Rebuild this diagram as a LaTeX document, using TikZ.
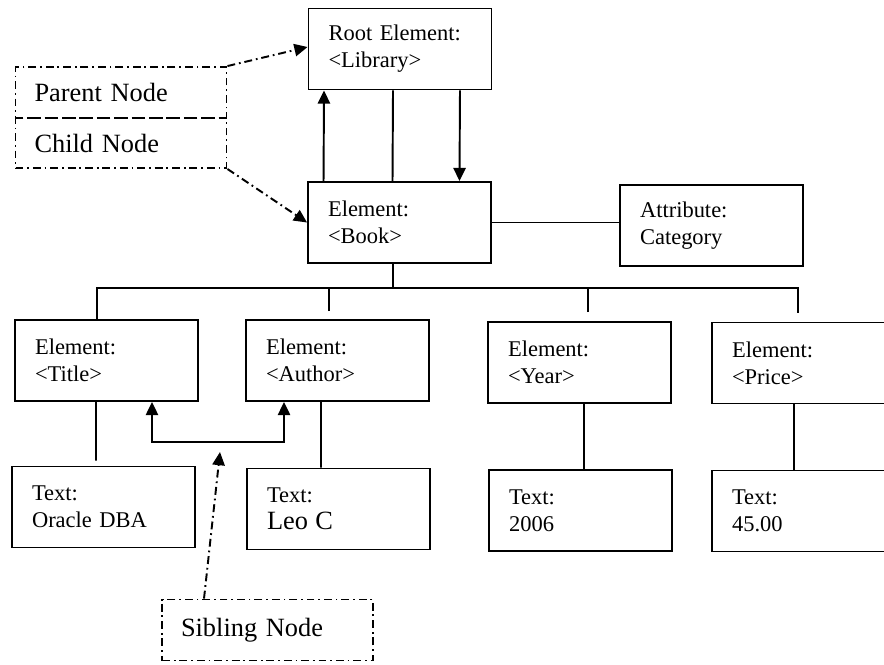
\documentclass[tikz,border=0pt]{standalone}
\usepackage{fontspec}
\setmainfont{Liberation Serif}
\usetikzlibrary{arrows.meta,positioning,calc}

\begin{document}
\begin{tikzpicture}[x=0.02cm, y=-0.02cm, line width=1.1pt,
		>={Triangle[length=7.5pt,width=7pt]},
		elem/.style={draw, rectangle, minimum width=3.66cm, minimum height=1.62cm, inner xsep=0.4cm, text width=2.86cm, align=left, font=\fontsize{12.8}{15.5}\selectfont},
		hint/.style={draw, dash pattern=on 4.5pt off 2.2pt on 1pt off 2.2pt, rectangle, minimum width=4.22cm, inner xsep=0.38cm, text width=3.46cm, align=left, font=\fontsize{15}{17}\selectfont},
		hintline/.style={dash pattern=on 4.5pt off 2.2pt on 1pt off 2.2pt}]
		\useasboundingbox (0,0) rectangle (884,664);

		\node[elem] (root) at (400,49) {Root Element:\\<Library>};
		\node[elem] (book) at (399.5,222.5) {Element:\\<Book>};
		\node[elem] (attr) at (711.5,225.5) {Attribute:\\Category};

		\node[elem] (title) at (106.5,360.5) {Element:\\<Title>};
		\node[elem] (author) at (337.5,360.5) {Element:\\<Author>};
		\node[elem] (year) at (579.5,362.5) {Element:\\<Year>};
		\node[elem] (price) at (803.5,363) {Element:\\<Price>};

		\node[elem] (oracle) at (103.5,507) {Text:\\Oracle DBA};
		\node[elem] (leo) at (338.5,509) {Text:\\{\fontsize{15}{17}\selectfont Leo C}};
		\node[elem] (yeartxt) at (580.5,510.5) {Text:\\2006};
		\node[elem] (pricetxt) at (803.5,511) {Text:\\45.00};

		\node[hint, minimum height=1.02cm] (parent) at (121,92.5) {Parent Node};
		\node[hint, minimum height=1.0cm] (child) at (121,143) {Child Node};
		\node[hint, minimum height=1.22cm] (sibling) at (267.5,630) {Sibling Node};

		% root and book
		\draw[->] ([xshift=-1.52cm]book.north) -- ([xshift=-1.52cm]root.south);
		\draw ([xshift=-0.14cm]root.south) -- ([xshift=-0.14cm]book.north);
		\draw[->] ([xshift=1.2cm]root.south) -- ([xshift=1.2cm]book.north);
		\draw (book.east) -- (book.east -| attr.west);

		% children of book
		\coordinate (bus) at (393,288);
		\draw (book.south -| bus) -- (bus);
		\draw ([xshift=-0.19cm]title.north) |- (bus) -| ([xshift=-0.11cm,yshift=0.18cm]price.north);
		\draw ([xshift=-0.17cm,yshift=0.16cm]author.north) |- (bus);
		\draw ([xshift=0.17cm,yshift=0.18cm]year.north) |- (bus);

		\draw ([xshift=-0.21cm]title.south) -- ([xshift=-0.15cm,yshift=0.1cm]oracle.north);
		\draw ([xshift=-0.33cm]author.south) -- ([xshift=-0.35cm]leo.north);
		\draw ([xshift=0.09cm]year.south) -- ([xshift=0.07cm]yeartxt.north);
		\draw ([xshift=-0.19cm]price.south) -- ([xshift=-0.19cm]pricetxt.north);

		% siblings
		\coordinate (sibbar) at (218,442);
		\draw[<->] ([xshift=0.91cm]title.south) |- (sibbar) -| ([xshift=-1.07cm]author.south);

		\coordinate (sibtip) at (220,452);
		\draw[hintline, ->] ([xshift=-1.27cm]sibling.north) -- (sibtip);
		\draw[hintline, ->] (parent.north east) -- ([yshift=0.04cm]root.west);
		\draw[hintline, ->] (child.south east) -- (book.west);
	\end{tikzpicture}
\end{document}
